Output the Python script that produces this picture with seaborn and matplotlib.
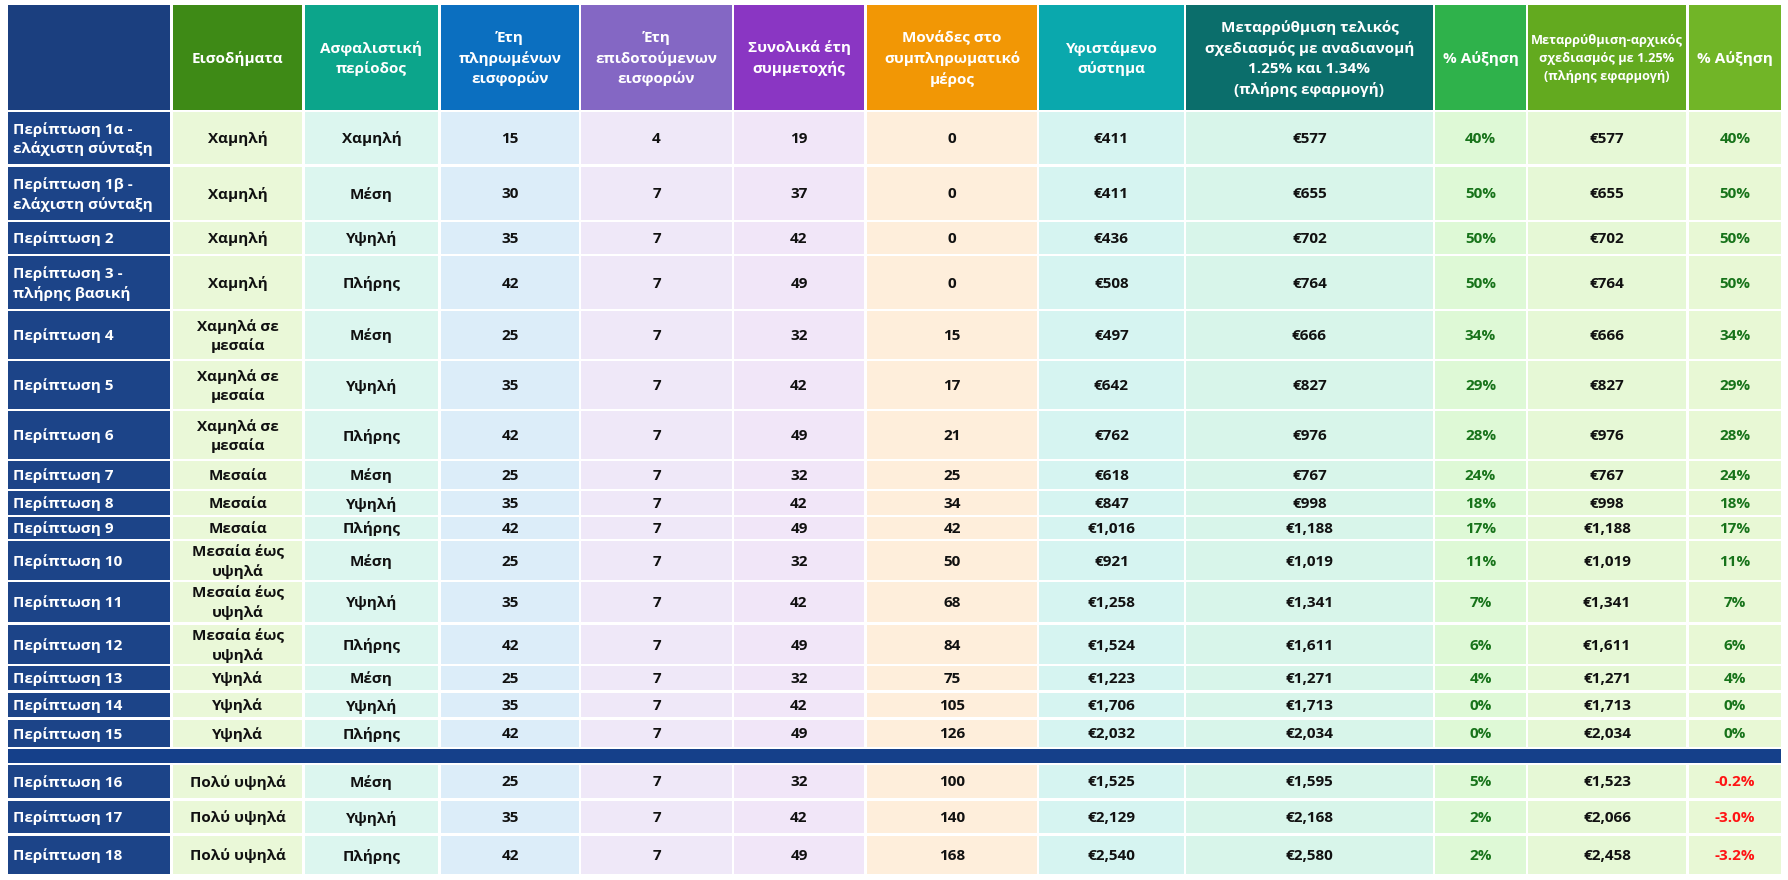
import matplotlib
matplotlib.use("Agg")
import matplotlib.pyplot as plt
import seaborn as sns

# ---------------- data ----------------
headers = ["", "Εισοδήματα", "Ασφαλιστική\nπερίοδος", "Έτη\nπληρωμένων\nεισφορών",
           "Έτη\nεπιδοτούμενων\nεισφορών", "Συνολικά έτη\nσυμμετοχής",
           "Μονάδες στο\nσυμπληρωματικό\nμέρος", "Υφιστάμενο\nσύστημα",
           "Μεταρρύθμιση τελικός\nσχεδιασμός με αναδιανομή\n1.25% και 1.34%\n(πλήρης εφαρμογή)",
           "% Αύξηση",
           "Μεταρρύθμιση-αρχικός\nσχεδιασμός με 1.25%\n(πλήρης εφαρμογή)",
           "% Αύξηση"]

cases = ["Περίπτωση 1α -\nελάχιστη σύνταξη", "Περίπτωση 1β -\nελάχιστη σύνταξη", "Περίπτωση 2",
         "Περίπτωση 3 -\nπλήρης βασική", "Περίπτωση 4", "Περίπτωση 5", "Περίπτωση 6",
         "Περίπτωση 7", "Περίπτωση 8", "Περίπτωση 9", "Περίπτωση 10", "Περίπτωση 11",
         "Περίπτωση 12", "Περίπτωση 13", "Περίπτωση 14", "Περίπτωση 15",
         "Περίπτωση 16", "Περίπτωση 17", "Περίπτωση 18"]
income = (["Χαμηλή"] * 4 + ["Χαμηλά σε\nμεσαία"] * 3 + ["Μεσαία"] * 3 +
          ["Μεσαία έως\nυψηλά"] * 3 + ["Υψηλά"] * 3 + ["Πολύ υψηλά"] * 3)
period = ["Χαμηλή", "Μέση", "Υψηλή", "Πλήρης"] + ["Μέση", "Υψηλή", "Πλήρης"] * 5
paid_years = [15, 30, 35, 42, 25, 35, 42, 25, 35, 42, 25, 35, 42, 25, 35, 42, 25, 35, 42]
subsidized_years = [4, 7, 7, 7, 7, 7, 7, 7, 7, 7, 7, 7, 7, 7, 7, 7, 7, 7, 7]
total_years = [19, 37, 42, 49, 32, 42, 49, 32, 42, 49, 32, 42, 49, 32, 42, 49, 32, 42, 49]
units = [0, 0, 0, 0, 15, 17, 21, 25, 34, 42, 50, 68, 84, 75, 105, 126, 100, 140, 168]
existing = [411, 411, 436, 508, 497, 642, 762, 618, 847, 1016, 921, 1258, 1524, 1223,
            1706, 2032, 1525, 2129, 2540]
reform_final = [577, 655, 702, 764, 666, 827, 976, 767, 998, 1188, 1019, 1341, 1611, 1271,
                1713, 2034, 1595, 2168, 2580]
increase_final = [40, 50, 50, 50, 34, 29, 28, 24, 18, 17, 11, 7, 6, 4, 0, 0, 5, 2, 2]
reform_initial = [577, 655, 702, 764, 666, 827, 976, 767, 998, 1188, 1019, 1341, 1611, 1271,
                  1713, 2034, 1523, 2066, 2458]
increase_initial = [40, 50, 50, 50, 34, 29, 28, 24, 18, 17, 11, 7, 6, 4, 0, 0, -0.2, -3.0, -3.2]

# ---------------- layout / style ----------------
col_edges = [(8, 170), (173, 302), (305, 438), (441, 579), (581, 732), (734, 864),
             (867, 1037), (1039, 1184), (1186, 1433), (1435, 1526), (1528, 1686), (1689, 1781)]
header_span = (5, 110)
row_spans = [(112, 164), (167, 220), (222, 254), (256, 309), (311, 359), (361, 409),
             (411, 459), (461, 489), (491, 515), (517, 539), (541, 580), (582, 622),
             (625, 664), (666, 690), (693, 717), (720, 747),
             (765, 798), (801, 833), (836, 874)]
separator_span = (749, 763)

header_colors = ["#1b3f7f", "#3e8a16", "#0ca58b", "#0b6fc0", "#8467c4", "#8a36c3",
                 "#f29705", "#0aa8ad", "#0b6e6b", "#2fb24b", "#63aa1f", "#71b527"]
body_colors = ["#1c4488", "#eaf8d8", "#dcf6ef", "#dcedf9", "#efe8f8", "#f1e6f8",
               "#feeedb", "#d6f4f1", "#d8f5ea", "#def9d6", "#e6f8d6", "#e8f8d5"]
pos_color = "#17731a"
neg_color = "#ff1414"

sns.set_theme(style="white")
plt.rcParams["font.family"] = ["Open Sans", "DejaVu Sans"]

fig = plt.figure(figsize=(17.88, 8.8), dpi=100)
ax = fig.add_axes([0, 0, 1, 1])
ax.set_xlim(0, 1788)
ax.set_ylim(880, 0)
ax.axis("off")


def cell(c, span, color):
    x0, x1 = col_edges[c]
    y0, y1 = span
    ax.bar(x0, y1 - y0, width=x1 - x0, bottom=y0, align="edge", color=color, linewidth=0)


# header
for c, h in enumerate(headers):
    cell(c, header_span, header_colors[c])
    x0, x1 = col_edges[c]
    fs = 9.2 if c == 10 else 11
    ax.text((x0 + x1) / 2, (header_span[0] + header_span[1]) / 2 + 1, h, ha="center",
            va="center", color="white", fontsize=fs, fontweight="bold", linespacing=1.5)

# separator bar
ax.bar(col_edges[0][0], separator_span[1] - separator_span[0],
       width=col_edges[-1][1] - col_edges[0][0], bottom=separator_span[0], align="edge",
       color="#15408a", linewidth=0)

columns = [
    cases,
    income,
    period,
    [str(v) for v in paid_years],
    [str(v) for v in subsidized_years],
    [str(v) for v in total_years],
    [str(v) for v in units],
    [f"€{v:,}" for v in existing],
    [f"€{v:,}" for v in reform_final],
    [f"{v:.0f}%" for v in increase_final],
    [f"€{v:,}" for v in reform_initial],
    [f"{v:.1f}%" if v < 0 else f"{v:.0f}%" for v in increase_initial],
]
raw_pct = {9: increase_final, 11: increase_initial}

for r, span in enumerate(row_spans):
    yc = (span[0] + span[1]) / 2 + 1
    for c in range(len(headers)):
        cell(c, span, body_colors[c])
        x0, x1 = col_edges[c]
        txt = columns[c][r]
        if c == 0:
            ax.text(x0 + 5, yc, txt, ha="left", va="center", color="white",
                    fontsize=11, fontweight="bold", linespacing=1.4)
        else:
            color = "#111111"
            if c in raw_pct:
                color = neg_color if raw_pct[c][r] < 0 else pos_color
            ax.text((x0 + x1) / 2, yc, txt, ha="center", va="center", color=color,
                    fontsize=11, fontweight="bold", linespacing=1.4)

fig.savefig("out.png", dpi=100, facecolor="white")
